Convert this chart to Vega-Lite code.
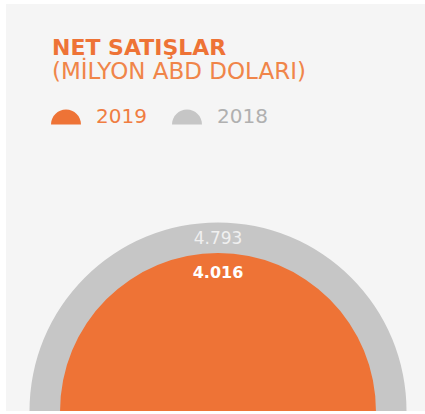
{
  "$schema": "https://vega.github.io/schema/vega-lite/v6.json",
  "width": 425,
  "height": 414,
  "autosize": {"type": "fit", "contains": "padding"},
  "padding": {"left": 6, "top": 4, "right": 0, "bottom": 2},
  "background": "#ffffff",
  "view": {"fill": "#f5f5f5", "stroke": null},
  "config": {
    "view": {"fill": "#f5f5f5", "stroke": null},
    "locale": {"number": {"decimal": ",", "thousands": ".", "grouping": [3], "currency": ["", " $"]}}
  },
  "title": {
    "text": "NET SATIŞLAR",
    "subtitle": "(MİLYON ABD DOLARI)",
    "anchor": "start",
    "frame": "group",
    "orient": "top",
    "dx": 46,
    "offset": -81,
    "font": "DejaVu Sans",
    "fontSize": 22,
    "fontWeight": "bold",
    "color": "#ee7336",
    "subtitleFont": "DejaVu Sans",
    "subtitleFontSize": 23,
    "subtitleFontWeight": "normal",
    "subtitleColor": "#f08549",
    "subtitlePadding": 1
  },
  "data": {"values": [
    {"year": "2018", "value": 4793},
    {"year": "2019", "value": 4016}
  ]},
  "layer": [
    {
      "mark": {"type": "arc", "theta": -1.5708, "theta2": 1.5708, "x": {"expr": "width/2"}, "y": "height", "xOffset": 2.5},
      "encoding": {
        "radius": {"field": "value", "type": "quantitative", "stack": null, "scale": {"type": "linear", "domain": [0, 4793], "range": [0, 188.5]}},
        "color": {
          "field": "year",
          "type": "nominal",
          "scale": {"domain": ["2019", "2018"], "range": ["#ee7336", "#c6c6c6"]},
          "legend": {
            "title": null,
            "orient": "none",
            "legendX": 45,
            "legendY": 98,
            "direction": "horizontal",
            "symbolType": "M -1 0.5 A 1 1 0 0 1 1 0.5 Z",
            "symbolSize": 900,
            "symbolStrokeWidth": 0,
            "symbolOpacity": 1,
            "labelFont": "DejaVu Sans",
            "labelFontSize": 20,
            "labelFontWeight": "normal",
            "labelOffset": 15,
            "columnPadding": 25,
            "padding": 0,
            "encode": {"labels": {"update": {"fill": {"signal": "datum.label === '2019' ? '#f07d42' : '#b0b0b0'"}}}}
          }
        }
      }
    },
    {
      "transform": [{"filter": "datum.year === '2018'"}],
      "mark": {"type": "text", "theta": 0, "x": {"expr": "width/2"}, "y": "height", "xOffset": 2.5, "radiusOffset": -16, "font": "DejaVu Sans", "fontSize": 17, "fontWeight": "normal", "color": "#f0f0f0", "align": "center", "baseline": "middle"},
      "encoding": {
        "radius": {"field": "value", "type": "quantitative", "stack": null, "scale": {"type": "linear", "domain": [0, 4793], "range": [0, 188.5]}},
        "text": {"field": "value", "type": "quantitative", "format": ",d"}
      }
    },
    {
      "transform": [{"filter": "datum.year === '2019'"}],
      "mark": {"type": "text", "theta": 0, "x": {"expr": "width/2"}, "y": "height", "xOffset": 2.5, "radiusOffset": -20, "font": "DejaVu Sans", "fontSize": 16, "fontWeight": "bold", "color": "#ffffff", "align": "center", "baseline": "middle"},
      "encoding": {
        "radius": {"field": "value", "type": "quantitative", "stack": null, "scale": {"type": "linear", "domain": [0, 4793], "range": [0, 188.5]}},
        "text": {"field": "value", "type": "quantitative", "format": ",d"}
      }
    }
  ]
}
